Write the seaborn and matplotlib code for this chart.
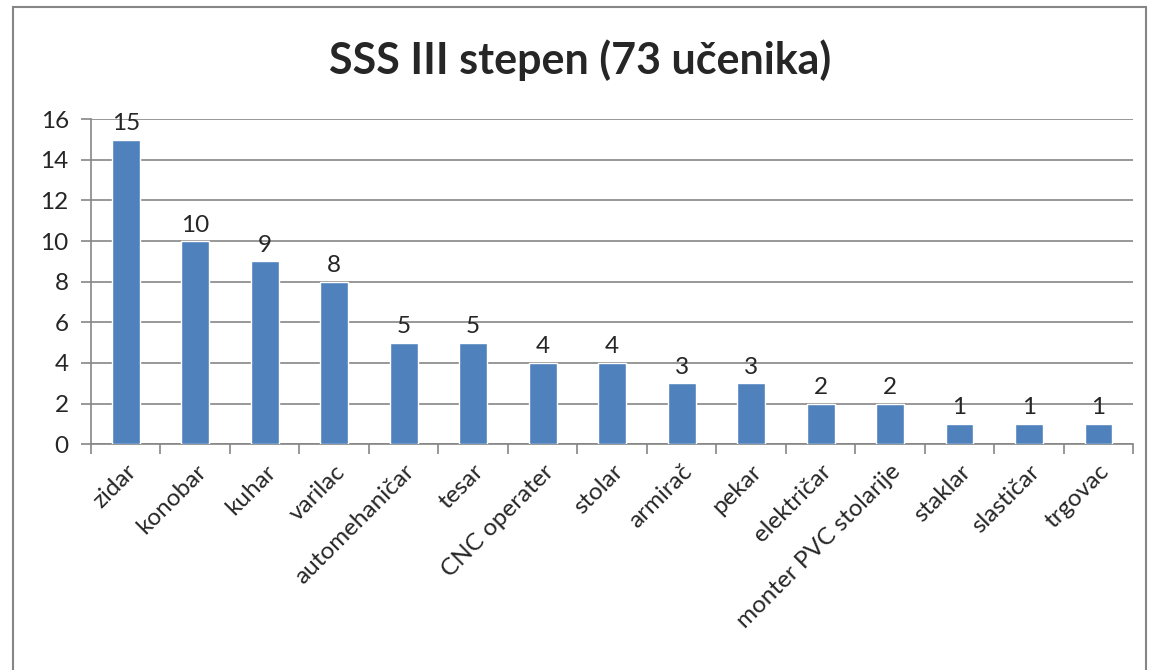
import numpy as np
import matplotlib.pyplot as plt
import matplotlib.patches as patches
import seaborn as sns

occupations = ["zidar", "konobar", "kuhar", "varilac", "automehaničar", "tesar",
               "CNC operater", "stolar", "armirač", "pekar", "električar",
               "monter PVC stolarije", "staklar", "slastičar", "trgovac"]
students = [15, 10, 9, 8, 5, 5, 4, 4, 3, 3, 2, 2, 1, 1, 1]

sns.set_style("white")
plt.rcParams["font.family"] = ["Lato", "DejaVu Sans"]

fig = plt.figure(figsize=(11.6, 6.7), dpi=100)
ax = fig.add_axes([0.0784, 0.337, 0.8986, 0.485])

sns.barplot(x=occupations, y=students, color="#4F81BD", saturation=1, width=0.4, ax=ax, zorder=3)

ax.bar_label(ax.containers[0], fontsize=17.5, padding=4)

ax.set_ylim(0, 16)
ax.set_yticks(np.arange(0, 17, 2))
ax.set_xlim(-0.5, len(occupations) - 0.5)
ax.yaxis.grid(True, color="#868686", linewidth=1.2, zorder=0)

for side in ["top", "right"]:
    ax.spines[side].set_visible(False)
for side in ["left", "bottom"]:
    ax.spines[side].set_color("#868686")
    ax.spines[side].set_linewidth(1.2)

ax.tick_params(axis="y", labelsize=17.5, length=7, pad=9, color="#868686", width=1.2, direction="out", left=True)
ax.set_xticks(np.arange(-0.5, len(occupations)), minor=True)
ax.tick_params(axis="x", which="minor", length=7, color="#868686", width=1.2, direction="out", bottom=True)
ax.tick_params(axis="x", which="major", length=0, pad=12, labelsize=17.5)
plt.setp(ax.get_xticklabels(), rotation=45, ha="right", rotation_mode="anchor")

fig.text(0.5, 0.91, "SSS III stepen (73 učenika)", ha="center", va="center",
         fontsize=31, fontweight="bold")

fig.patches.append(patches.Rectangle((0.011, -0.01), 0.977, 1.0, transform=fig.transFigure,
                                     fill=False, edgecolor="#868686", linewidth=1.5))

fig.savefig("out.png", dpi=100)
